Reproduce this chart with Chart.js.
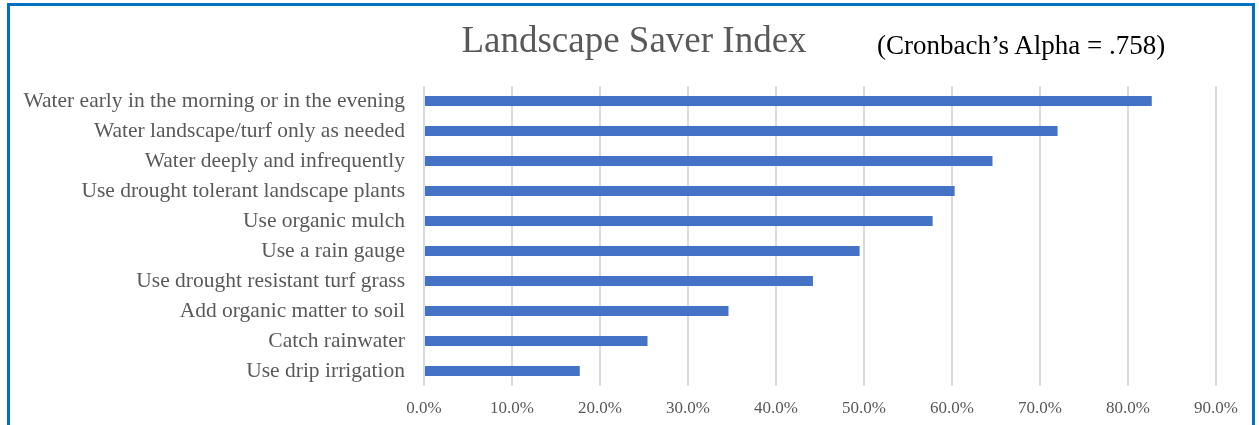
<!DOCTYPE html>
<html>
<head>
<meta charset="utf-8">
<script src="https://cdn.jsdelivr.net/npm/chart.js@4/dist/chart.umd.min.js"></script>
<style>
  html, body { margin: 0; padding: 0; background: #fff; width: 1259px; height: 425px; overflow: hidden; }
  #wrap { position: relative; width: 1259px; height: 425px; }
  #c { position: absolute; left: 0; top: 0; }
  #frame { position: absolute; left: 7px; top: 3px; width: 1242px; height: 500px;
           border: 3px solid #0070C0; border-bottom: none; box-sizing: content-box; pointer-events: none; }
  .t { position: absolute; font-family: "Liberation Serif", "Times New Roman", serif; line-height: 1; white-space: nowrap; }
  #title { left: 634px; top: 21px; font-size: 37px; color: #595959; transform: translateX(-50%); }
  #sub { left: 877px; top: 32px; font-size: 27px; color: #000; }
</style>
</head>
<body>
<div id="wrap">
  <canvas id="c" width="1259" height="425"></canvas>
  <div id="frame"></div>
  <div class="t" id="title">Landscape Saver Index</div>
  <div class="t" id="sub">(Cronbach’s Alpha = .758)</div>
</div>
<script>
const categories = [
  "Water early in the morning or in the evening",
  "Water landscape/turf only as needed",
  "Water deeply and infrequently",
  "Use drought tolerant landscape plants",
  "Use organic mulch",
  "Use a rain gauge",
  "Use drought resistant turf grass",
  "Add organic matter to soil",
  "Catch rainwater",
  "Use drip irrigation"
];
const values = [82.7, 72.0, 64.6, 60.3, 57.8, 49.5, 44.2, 34.6, 25.4, 17.7];
const xTickValues = [0, 10, 20, 30, 40, 50, 60, 70, 80, 90];

new Chart(document.getElementById('c'), {
  type: 'bar',
  data: {
    labels: categories,
    datasets: [{
      data: values,
      backgroundColor: '#4472C4',
      borderWidth: 0,
      barPercentage: 0.34,
      categoryPercentage: 1.0
    }]
  },
  options: {
    indexAxis: 'y',
    responsive: false,
    animation: false,
    devicePixelRatio: 1,
    layout: { padding: { top: 86, right: 43, bottom: 0, left: 0 } },
    plugins: { legend: { display: false }, tooltip: { enabled: false }, title: { display: false } },
    scales: {
      y: {
        grid: { display: false },
        border: { display: false },
        ticks: {
          color: '#595959',
          padding: 11,
          font: { family: '"Liberation Serif", "Times New Roman", serif', size: 21.5 }
        },
        afterFit: s => { s.width = 424; }
      },
      x: {
        min: 0, max: 90,
        afterBuildTicks: s => { s.ticks = xTickValues.map(v => ({ value: v })); },
        grid: { color: '#D9D9D9', lineWidth: 2, drawTicks: false },
        border: { display: false },
        ticks: {
          color: '#595959',
          padding: 12,
          maxRotation: 0,
          autoSkip: false,
          font: { family: '"Liberation Serif", "Times New Roman", serif', size: 17 },
          callback: v => Number(v).toFixed(1) + '%'
        },
        afterFit: s => { s.height = 39; }
      }
    }
  }
});
</script>
</body>
</html>
